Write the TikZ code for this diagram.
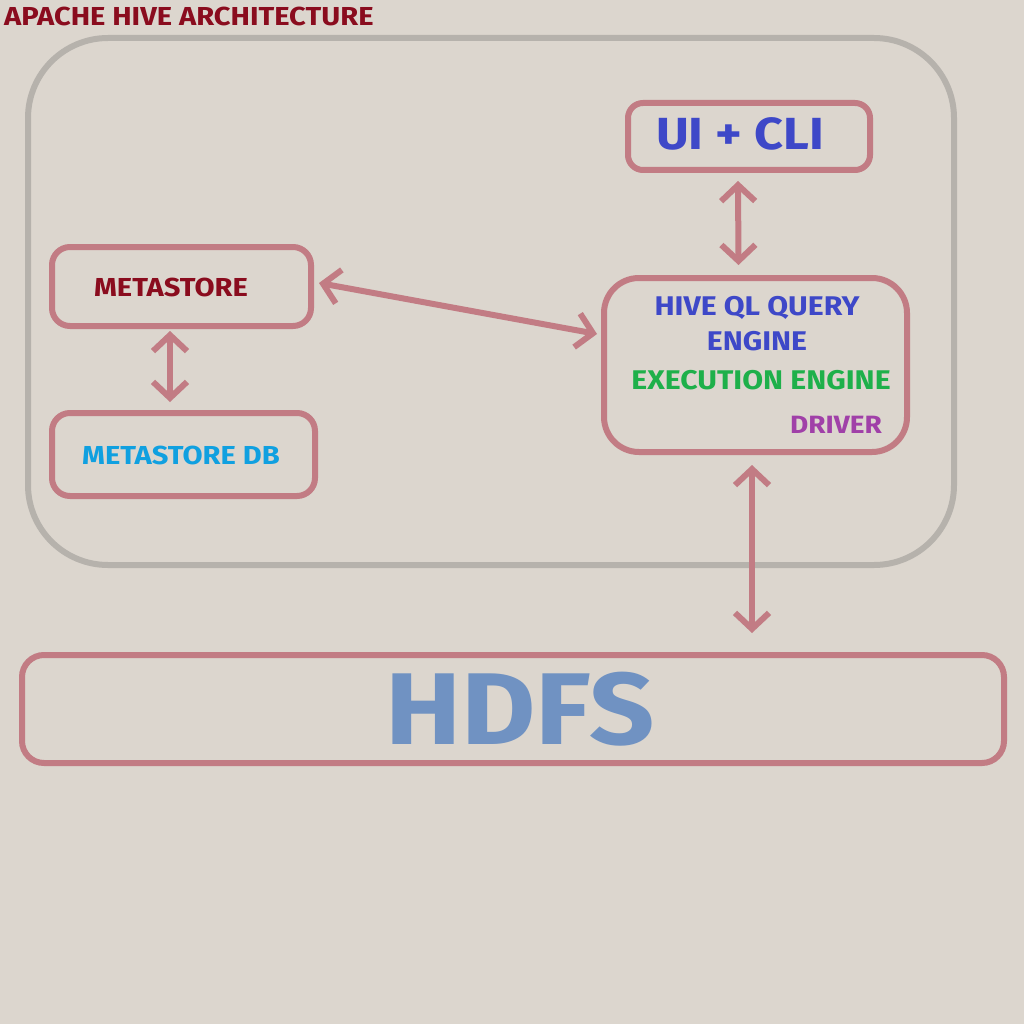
\documentclass[tikz,border=0pt]{standalone}
\usepackage{fontspec}
\setmainfont{Fira Sans}[FakeStretch=1.12]
\usetikzlibrary{arrows.meta}
\definecolor{bg}{RGB}{220,214,206}
\definecolor{redline}{RGB}{194,124,132}
\definecolor{grayline}{RGB}{182,178,172}
\definecolor{darkred}{RGB}{138,12,30}
\definecolor{uiblue}{RGB}{62,72,200}
\definecolor{egreen}{RGB}{30,176,74}
\definecolor{dpurple}{RGB}{160,64,168}
\definecolor{dbcyan}{RGB}{16,160,224}
\definecolor{hdfsblue}{RGB}{112,146,194}
\tikzset{
  box/.style={draw=redline, line width=6pt, rounded corners=#1, inner sep=0pt},
  box/.default=18pt,
  link/.style={draw=redline, line width=6pt, {Straight Barb[length=16pt,width=34pt]}-{Straight Barb[length=16pt,width=34pt]}},
  lbl/.style={font=\bfseries, inner sep=0pt}
}
\begin{document}
\begin{tikzpicture}[x=1pt,y=-1pt]
\fill[bg] (0,0) rectangle (1024,1024);
\useasboundingbox (0,0) rectangle (1024,1024);
% title
\node[lbl, text=darkred, anchor=west, font=\fontsize{26}{26}\bfseries\selectfont] (title) at (4,16) {APACHE HIVE ARCHITECTURE};
% outer frame
\draw[grayline, line width=6pt, rounded corners=80pt] (28,38) rectangle (954,565);
% boxes
\node[box=15pt, minimum width=242pt, minimum height=67pt] (ui) at (749,136.5) {};
\node[lbl, text=uiblue, font=\fontsize{45}{45}\bfseries\selectfont] (uit) at (740,134) {UI + CLI};
\node[box=35pt, minimum width=303pt, minimum height=174pt] (hive) at (755.5,365) {};
\node[lbl, text=uiblue, font=\fontsize{27}{27}\bfseries\selectfont] (hq1) at (757,308) {HIVE QL QUERY};
\node[lbl, text=uiblue, font=\fontsize{27}{27}\bfseries\selectfont] (hq2) at (757,341) {ENGINE};
\node[lbl, text=egreen, font=\fontsize{27}{27}\bfseries\selectfont] (exe) at (761,380) {EXECUTION ENGINE};
\node[lbl, text=dpurple, font=\fontsize{25}{25}\bfseries\selectfont] (drv) at (836,425) {DRIVER};
\node[box, minimum width=259pt, minimum height=79pt] (meta) at (181.5,286.5) {};
\node[lbl, text=darkred, font=\fontsize{26}{26}\bfseries\selectfont] (metat) at (171,287) {METASTORE};
\node[box, minimum width=263pt, minimum height=83pt] (db) at (183.5,454.5) {};
\node[lbl, text=dbcyan, font=\fontsize{26}{26}\bfseries\selectfont] (dbt) at (181,455) {METASTORE DB};
\node[box=22pt, minimum width=982pt, minimum height=108pt] (hdfs) at (513,709) {};
\node[lbl, text=hdfsblue, font=\fontsize{102}{102}\bfseries\selectfont] (hdfst) at (520,709) {HDFS};
% connectors
\coordinate (a1) at ([xshift=-11pt,yshift=-8pt]ui.south);
\coordinate (a2) at ([xshift=-17pt,yshift=10pt]hive.north);
\draw[link] (a1) -- (a2);
\coordinate (b1) at ([xshift=-11.5pt,yshift=-2pt]meta.south);
\coordinate (b2) at ([xshift=-13.5pt,yshift=8pt]db.north);
\draw[link] (b1) -- (b2);
\coordinate (c1) at ([xshift=5pt,yshift=3.5pt]meta.east);
\coordinate (c2) at ([xshift=-4pt,yshift=31pt]hive.west);
\draw[link] (c1) -- (c2);
\coordinate (d1) at ([xshift=-3.5pt,yshift=-10pt]hive.south);
\draw[link, shorten >=19pt] (d1) -- (d1 |- hdfs.north);
\end{tikzpicture}
\end{document}
